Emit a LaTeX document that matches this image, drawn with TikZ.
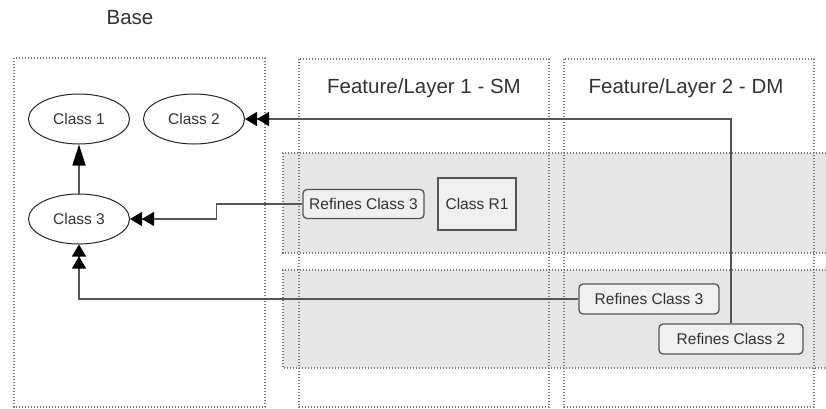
\documentclass[tikz,border=0pt]{standalone}
\usepackage{fontspec}
\setmainfont{Liberation Sans}
\usepackage{tikz}
\usetikzlibrary{positioning,arrows.meta,shapes.geometric,calc}
\definecolor{edgegray}{HTML}{555555}
\definecolor{bandgray}{HTML}{E6E6E6}
\definecolor{dotgray}{HTML}{7A7A7A}
\definecolor{txtgray}{HTML}{333333}

\begin{document}
\begin{tikzpicture}[x=1pt, y=-1pt,
    lane/.style={draw=dotgray, line width=1.4pt, dash pattern=on 1.4pt off 1.6pt},
    cls/.style={ellipse, draw=black!85, line width=1pt, fill=white, minimum width=101pt, minimum height=50pt, inner sep=0pt, font=\fontsize{15.5}{18}\selectfont, text=txtgray},
    refbox/.style={draw=edgegray, line width=1.3pt, rounded corners=4pt, fill=bandgray!60, minimum height=29pt, inner sep=2pt, font=\fontsize{15.5}{18}\selectfont, text=txtgray},
    plainbox/.style={refbox, rounded corners=0pt},
    lanetitle/.style={font=\fontsize{20.5}{24}\selectfont, text=txtgray},
    link/.style={draw=edgegray, line width=1.5pt},
    sgl/.style={link, -{Triangle[length=21pt,width=13pt,color=black]}},
    dbl/.style={link, -{Triangle[length=12pt,width=14pt,color=black]Triangle[length=12pt,width=14pt,color=black]}}]
  \useasboundingbox (0,0) rectangle (826,408);
  % bands behind everything
  \fill[bandgray] (283,153) rectangle (826,253);
  \fill[bandgray] (283,270) rectangle (826,368);
  \draw[lane] (826,153) -- (283,153) -- (283,253) -- (826,253);
  \draw[lane] (826,270) -- (283,270) -- (283,368) -- (826,368);
  % lanes
  \draw[lane] (14,58) rectangle (265,407);
  \draw[lane] (299,59) rectangle (549,407);
  \draw[lane] (564,59) rectangle (814,407);
  \node[lanetitle] (base) at (130,18) {Base};
  \node[lanetitle] (sm) at (424,88) {Feature/Layer 1 - SM};
  \node[lanetitle] (dm) at (686,88) {Feature/Layer 2 - DM};
  % base classes
  \node[cls] (c1) at (79,119) {Class 1};
  \node[cls] (c2) at (194,119) {Class 2};
  \node[cls] (c3) at (79,219) {Class 3};
  % layer nodes
  \node[refbox, minimum width=121pt] (rc3a) at (363.5,204) {Refines Class 3};
  \node[plainbox, minimum width=78pt, minimum height=52pt] (r1) at (477,204) {Class R1};
  \node[refbox, minimum width=140pt, minimum height=30pt] (rc3b) at (649,299) {Refines Class 3};
  \node[refbox, minimum width=144pt, minimum height=30pt] (rc2) at (731,339) {Refines Class 2};
  % links
  \draw[sgl] (c3) -- (c1);
  \draw[dbl] (rc3a.west) -- ++(-86,0) |- (c3);
  \draw[dbl] (rc3b.west) -| (c3);
  \draw[dbl] (rc2.north) |- (c2);
\end{tikzpicture}
\end{document}
